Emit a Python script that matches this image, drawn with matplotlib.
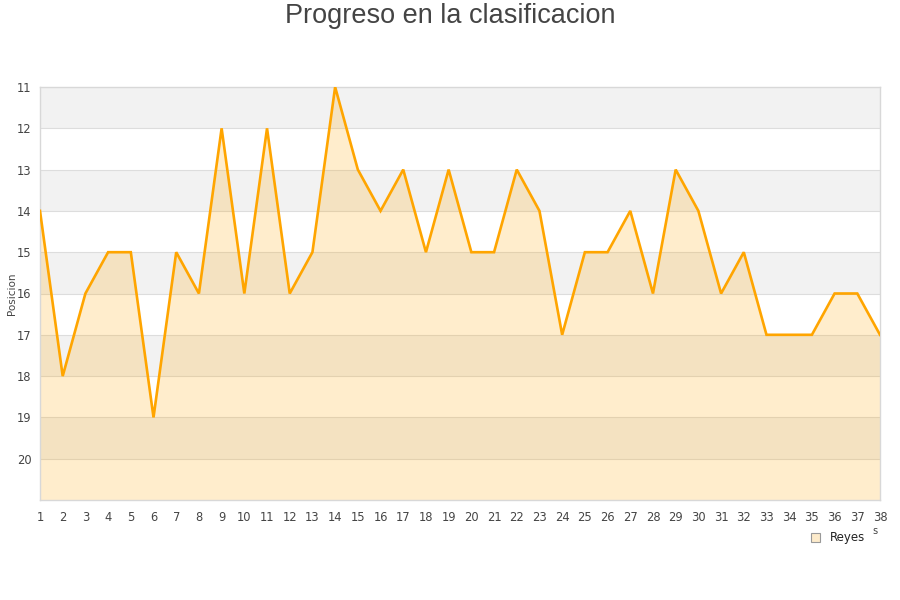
"""
Progreso en la clasificacion: posicion por jornada (Reyes).
Output: out.png
"""

import matplotlib
matplotlib.use("Agg")
import matplotlib.pyplot as plt
from matplotlib.patches import Patch


# ---------------------------------------------------------------------
# Data
# ---------------------------------------------------------------------

jornadas = list(range(1, 39))
posiciones = [
    14, 18, 16, 15, 15, 19, 15, 16, 12, 16,
    12, 16, 15, 11, 13, 14, 13, 15, 13, 15,
    15, 13, 14, 17, 15, 15, 14, 16, 13, 14,
    16, 15, 17, 17, 17, 16, 16, 17,
]
y_ticks = list(range(11, 21))
equipo = "Reyes"
titulo = "Progreso en la clasificacion"


# ---------------------------------------------------------------------
# Style
# ---------------------------------------------------------------------

LINE_COLOR = "#FFA500"
FILL_COLOR = "#FFA500"
BAND_COLOR = "#F2F2F2"
GRID_COLOR = "#DDDDDD"
TEXT_COLOR = "#444444"

fig = plt.figure(figsize=(9, 6), dpi=100)
ax = fig.add_axes([40 / 900, 100 / 600, 840 / 900, 413 / 600])

# alternating background bands
for y0 in range(11, 21, 2):
    ax.axhspan(y0, y0 + 1, color=BAND_COLOR, zorder=0, lw=0)

for y in range(12, 21):
    ax.axhline(y, color=GRID_COLOR, lw=0.8, zorder=1)

ax.fill_between(jornadas, posiciones, 21, color=FILL_COLOR, alpha=0.2,
                lw=0, zorder=2)
ax.plot(jornadas, posiciones, color=LINE_COLOR, lw=1.9, zorder=3,
        solid_joinstyle="miter")

ax.set_xlim(1, 38)
ax.set_ylim(21, 11)
ax.set_xticks(jornadas)
ax.set_yticks(y_ticks)
ax.tick_params(length=0, labelsize=8.3, colors=TEXT_COLOR, pad=6)
ax.tick_params(axis="x", pad=8)

for spine in ax.spines.values():
    spine.set_color("#D8D8D8")
    spine.set_linewidth(1)

ax.set_ylabel("Posicion", fontsize=7.5, color=TEXT_COLOR)
ax.yaxis.set_label_coords(-23 / 840, 0.5)

fig.text(0.5, 0.995, titulo, ha="center", va="top", fontsize=19.5,
         color=TEXT_COLOR, family="Liberation Sans")

fig.text(875 / 900, 1 - 531 / 600, "s", ha="center", va="center",
         fontsize=7, color=TEXT_COLOR)

handle = Patch(facecolor="#FDEBCB", edgecolor="#999999", lw=0.8)
fig.legend([handle], [equipo], loc="center", bbox_to_anchor=(838 / 900, 1 - 538 / 600),
           frameon=False, fontsize=8.5, handlelength=0.8, handleheight=0.8,
           handletextpad=0.8, labelcolor="#222222")

fig.savefig("out.png", dpi=100)
